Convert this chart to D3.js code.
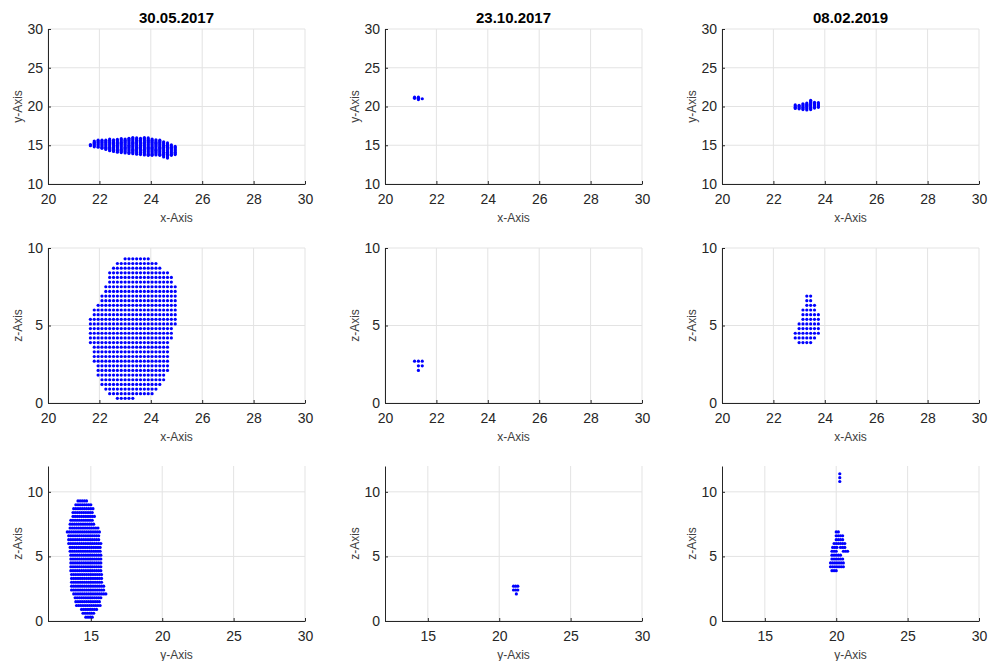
<!DOCTYPE html>
<html>
<head>
<meta charset="utf-8">
<script src="https://cdn.jsdelivr.net/npm/d3@7"></script>
<style>
  body { margin: 0; background: #fff; }
  text { font-family: "Liberation Sans", Arial, sans-serif; }
</style>
</head>
<body>
<div id="chart"></div>
<script>
const dates = ["30.05.2017", "23.10.2017", "08.02.2019"];

const xTicks = [20, 22, 24, 26, 28, 30];
const yTicksTop = [10, 15, 20, 25, 30];
const zTicks = [0, 5, 10];
const yTicksBottom = [15, 20, 25, 30];

// spacing of the points inside one column / row of the cloud
const STEP = 0.15;

// x-y view, one entry per x column: [x, yMin, yMax]
const xy0 = [
  [21.65, 14.95, 15.20], [21.80, 14.80, 15.60], [21.95, 14.75, 15.65], [22.10, 14.60, 15.70],
  [22.25, 14.45, 15.75], [22.40, 14.30, 15.80], [22.55, 14.20, 15.80], [22.70, 14.10, 15.80],
  [22.85, 14.05, 15.85], [23.00, 14.00, 15.85], [23.15, 13.95, 15.95], [23.30, 13.90, 16.05],
  [23.45, 13.85, 16.00], [23.60, 13.80, 16.00], [23.75, 13.75, 16.00], [23.90, 13.70, 15.95],
  [24.05, 13.70, 15.90], [24.20, 13.75, 15.80], [24.35, 13.70, 15.65], [24.50, 13.50, 15.50],
  [24.65, 13.35, 15.35], [24.80, 13.70, 15.10], [24.95, 13.80, 14.95]
];
const xy1 = [[21.15, 21.05, 21.20], [21.30, 20.90, 21.25], [21.45, 21.00, 21.10]];
const xy2 = [
  [22.85, 19.75, 20.20], [23.00, 19.70, 20.25], [23.15, 19.60, 20.40], [23.30, 19.55, 20.55],
  [23.45, 19.60, 20.80], [23.60, 19.80, 20.60], [23.75, 19.90, 20.50]
];

// x-z view, one entry per z row: [z, xMin, xMax]
const xz0 = [
  [9.3, 23.00, 23.90], [9.0, 22.70, 24.20], [8.7, 22.55, 24.35], [8.4, 22.40, 24.65],
  [8.1, 22.40, 24.80], [7.8, 22.40, 24.80], [7.5, 22.25, 24.95], [7.2, 22.25, 24.95],
  [6.9, 22.10, 24.95], [6.6, 22.10, 24.95], [6.3, 21.95, 24.95], [6.0, 21.80, 24.95],
  [5.7, 21.80, 24.95], [5.4, 21.65, 24.95], [5.1, 21.65, 24.95], [4.8, 21.65, 24.80],
  [4.5, 21.65, 24.80], [4.2, 21.65, 24.80], [3.9, 21.65, 24.65], [3.6, 21.80, 24.65],
  [3.3, 21.80, 24.65], [3.0, 21.80, 24.65], [2.7, 21.80, 24.65], [2.4, 21.95, 24.65],
  [2.1, 21.95, 24.65], [1.8, 21.95, 24.50], [1.5, 22.10, 24.50], [1.2, 22.10, 24.35],
  [0.9, 22.25, 24.20], [0.6, 22.40, 24.05], [0.3, 22.70, 23.30]
];
const xz1 = [[2.7, 21.15, 21.45], [2.4, 21.30, 21.45], [2.1, 21.30, 21.30]];
const xz2 = [
  [6.9, 23.30, 23.45], [6.6, 23.30, 23.45], [6.3, 23.30, 23.60], [6.0, 23.15, 23.60],
  [5.7, 23.15, 23.75], [5.4, 23.15, 23.75], [5.1, 23.00, 23.75], [4.8, 23.00, 23.75],
  [4.5, 22.85, 23.75], [4.2, 22.85, 23.60], [3.9, 23.00, 23.45]
];

// y-z view, one entry per z row (a row can have two pieces): [z, yMin, yMax]
const yz0 = [
  [9.3, 14.10, 14.80], [9.0, 13.95, 15.00], [8.7, 13.80, 15.20], [8.4, 13.75, 15.20],
  [8.1, 13.75, 15.35], [7.8, 13.60, 15.20], [7.5, 13.55, 15.20], [7.2, 13.55, 15.60],
  [6.9, 13.35, 15.60], [6.6, 13.45, 15.65], [6.3, 13.45, 15.65], [6.0, 13.45, 15.75],
  [5.7, 13.55, 15.75], [5.4, 13.55, 15.75], [5.1, 13.60, 15.75], [4.8, 13.60, 15.75],
  [4.5, 13.60, 15.75], [4.2, 13.60, 15.75], [3.9, 13.60, 15.75], [3.6, 13.65, 15.75],
  [3.3, 13.65, 15.75], [3.0, 13.65, 15.75], [2.7, 13.65, 15.90], [2.4, 13.65, 16.00],
  [2.1, 13.80, 16.05], [1.8, 13.90, 15.75], [1.5, 13.95, 15.70], [1.2, 14.00, 15.65],
  [0.9, 14.35, 15.40], [0.6, 14.45, 15.25], [0.3, 14.65, 15.10]
];
const yz1 = [[2.7, 21.00, 21.40], [2.4, 21.00, 21.40], [2.1, 21.20, 21.20]];
const yz2 = [
  [11.4, 20.25, 20.25], [11.1, 20.25, 20.25], [10.8, 20.25, 20.25],
  [6.9, 20.00, 20.25], [6.6, 20.00, 20.50], [6.3, 20.00, 20.50], [6.0, 19.85, 20.65],
  [5.7, 19.75, 20.05], [5.7, 20.30, 20.70], [5.4, 19.70, 20.05], [5.4, 20.50, 20.85],
  [5.1, 19.70, 20.40], [4.8, 19.70, 20.50], [4.5, 19.60, 20.50], [4.2, 19.60, 20.50],
  [3.9, 19.70, 20.00]
];

const WIDTH = 993, HEIGHT = 661;
const COL_LEFT = [48, 385, 722];
const ROW_TOP = [29, 248, 466];
const PANEL_W = 257, PANEL_H = 155;
const AXIS_COLOR = "#262626";
const GRID_COLOR = "#e3e3e3";
const DOT_COLOR = "#0000ff";

const views = [
  { xLabel: "x-Axis", yLabel: "y-Axis", xDomain: [20, 30], yDomain: [10, 30], xT: xTicks, yT: yTicksTop, mode: "col", data: [xy0, xy1, xy2] },
  { xLabel: "x-Axis", yLabel: "z-Axis", xDomain: [20, 30], yDomain: [0, 10], xT: xTicks, yT: zTicks, mode: "row", data: [xz0, xz1, xz2] },
  { xLabel: "y-Axis", yLabel: "z-Axis", xDomain: [12, 30], yDomain: [0, 12], xT: yTicksBottom, yT: zTicks, mode: "row", data: [yz0, yz1, yz2] }
];

const svg = d3.select("#chart").append("svg")
  .attr("width", WIDTH)
  .attr("height", HEIGHT);

// turn column / row ranges into the single points of the cloud
function expand(ranges, mode) {
  const pts = [];
  ranges.forEach(([c, lo, hi]) => {
    for (let v = lo; v <= hi + 1e-6; v += STEP) {
      pts.push(mode === "col" ? [c, v] : [v, c]);
    }
  });
  return pts;
}

function drawPanel(view, r, c) {
  const left = COL_LEFT[c], top = ROW_TOP[r];
  const x = d3.scaleLinear().domain(view.xDomain).range([left, left + PANEL_W]);
  const y = d3.scaleLinear().domain(view.yDomain).range([top + PANEL_H, top]);
  const g = svg.append("g");

  g.selectAll(".vgrid").data(view.xT).enter().append("line")
    .attr("x1", d => x(d)).attr("x2", d => x(d))
    .attr("y1", top + PANEL_H).attr("y2", top)
    .attr("stroke", GRID_COLOR).attr("stroke-width", 1);

  g.selectAll(".hgrid").data(view.yT).enter().append("line")
    .attr("x1", left).attr("x2", left + PANEL_W)
    .attr("y1", d => y(d)).attr("y2", d => y(d))
    .attr("stroke", GRID_COLOR).attr("stroke-width", 1);

  const pts = expand(view.data[c], view.mode)
    .filter(p => p[1] >= view.yDomain[0] && p[1] <= view.yDomain[1]);

  g.selectAll("circle").data(pts).enter().append("circle")
    .attr("cx", d => x(d[0]))
    .attr("cy", d => y(d[1]))
    .attr("r", 1.6)
    .attr("fill", DOT_COLOR);

  const xAxis = g.append("g")
    .attr("transform", `translate(0, ${top + PANEL_H})`)
    .call(d3.axisBottom(x).tickValues(view.xT).tickSizeInner(-3).tickSizeOuter(0).tickPadding(10));
  const yAxis = g.append("g")
    .attr("transform", `translate(${left}, 0)`)
    .call(d3.axisLeft(y).tickValues(view.yT).tickSizeInner(-3).tickSizeOuter(0).tickPadding(5));

  [xAxis, yAxis].forEach(a => {
    a.select(".domain").attr("stroke", AXIS_COLOR);
    a.selectAll(".tick line").attr("stroke", AXIS_COLOR);
    a.selectAll(".tick text")
      .attr("fill", AXIS_COLOR)
      .style("font-size", "14px")
      .style("font-family", "Liberation Sans, Arial, sans-serif");
  });

  g.append("text")
    .attr("x", left + PANEL_W / 2)
    .attr("y", top + PANEL_H + 38)
    .attr("text-anchor", "middle")
    .attr("fill", "#404040")
    .style("font-size", "12px")
    .text(view.xLabel);

  g.append("text")
    .attr("transform", `translate(${left - 26}, ${top + PANEL_H / 2}) rotate(-90)`)
    .attr("text-anchor", "middle")
    .attr("fill", "#404040")
    .style("font-size", "12px")
    .text(view.yLabel);

  if (r === 0) {
    g.append("text")
      .attr("x", left + PANEL_W / 2)
      .attr("y", top - 6)
      .attr("text-anchor", "middle")
      .attr("fill", "#000")
      .style("font-size", "15px")
      .style("font-weight", "bold")
      .text(dates[c]);
  }
}

views.forEach((view, r) => {
  dates.forEach((d, c) => drawPanel(view, r, c));
});
</script>
</body>
</html>
